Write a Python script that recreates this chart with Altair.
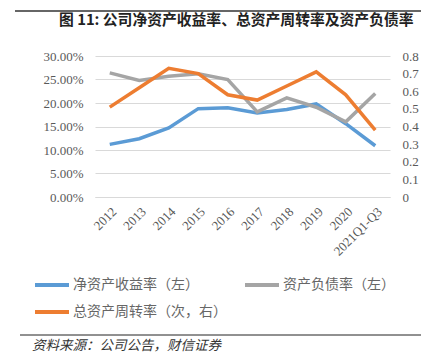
import altair as alt
import pandas as pd

years = ["2012", "2013", "2014", "2015", "2016", "2017", "2018", "2019", "2020", "2021Q1-Q3"]
roe = [0.112, 0.124, 0.147, 0.188, 0.190, 0.179, 0.186, 0.198, 0.156, 0.109]
debt = [0.264, 0.248, 0.257, 0.262, 0.250, 0.181, 0.211, 0.191, 0.160, 0.220]
turnover = [0.51, 0.62, 0.73, 0.70, 0.58, 0.55, 0.63, 0.71, 0.58, 0.38]

s_roe = "净资产收益率（左）"
s_debt = "资产负债率（左）"
s_turn = "总资产周转率（次，右）"
colors = ["#5B9BD5", "#A5A5A5", "#ED7D31"]

title_text = "图 11: 公司净资产收益率、总资产周转率及资产负债率"
source_text = "资料来源：公司公告，财信证券"

left_df = pd.DataFrame(
    [{"year": y, "value": v, "series": s_roe} for y, v in zip(years, roe)]
    + [{"year": y, "value": v, "series": s_debt} for y, v in zip(years, debt)]
)
right_df = pd.DataFrame([{"year": y, "value": v, "series": s_turn} for y, v in zip(years, turnover)])

serif = "Liberation Serif"
cjk = "Noto Sans CJK SC"

color = alt.Color(
    "series:N",
    scale=alt.Scale(domain=[s_roe, s_debt, s_turn], range=colors),
    legend=alt.Legend(
        title=None,
        orient="none",
        legendX=-62,
        legendY=210,
        direction="horizontal",
        columns=2,
        columnPadding=10,
        rowPadding=-8,
        symbolType="stroke",
        symbolSize=1156,
        symbolStrokeWidth=4,
        labelFont=cjk,
        labelFontSize=14,
        labelColor="#666666",
        labelOffset=2,
        labelLimit=300,
    ),
)

xenc = alt.X(
    "year:N",
    sort=years,
    title=None,
    axis=alt.Axis(
        labelAngle=-45,
        labelFont=serif,
        labelFontSize=13,
        labelColor="#595959",
        labelPadding=8,
        ticks=False,
        domainColor="#D9D9D9",
        grid=False,
    ),
)

left = alt.Chart(left_df).mark_line(strokeWidth=3.5).encode(
    x=xenc,
    y=alt.Y(
        "value:Q",
        scale=alt.Scale(domain=[0, 0.3]),
        title=None,
        axis=alt.Axis(
            orient="left",
            values=[0, 0.05, 0.1, 0.15, 0.2, 0.25, 0.3],
            format=".2%",
            labelFont=serif,
            labelFontSize=13,
            labelColor="#595959",
            labelPadding=12,
            ticks=False,
            domain=False,
            grid=True,
            gridColor="#D9D9D9",
        ),
    ),
    color=color,
)

right = alt.Chart(right_df).mark_line(strokeWidth=3.5).encode(
    x=xenc,
    y=alt.Y(
        "value:Q",
        scale=alt.Scale(domain=[0, 0.8]),
        title=None,
        axis=alt.Axis(
            orient="right",
            values=[0, 0.1, 0.2, 0.3, 0.4, 0.5, 0.6, 0.7, 0.8],
            labelExpr="datum.value == 0 ? '0' : format(datum.value, '.1f')",
            labelFont=serif,
            labelFontSize=13,
            labelColor="#595959",
            labelPadding=12,
            ticks=False,
            domain=False,
            grid=False,
        ),
    ),
    color=color,
)

one = alt.Data(values=[{"a": 1}])

title = alt.Chart(one).mark_text(
    text=title_text, font=cjk, fontSize=14.8, fontWeight="bold", color="#222222",
    align="left", baseline="middle",
).encode(x=alt.value(-36), y=alt.value(-35))

source = alt.Chart(one).mark_text(
    text=source_text, font=cjk, fontSize=13.5, fontStyle="italic", color="#333333",
    align="left", baseline="middle",
).encode(x=alt.value(-63), y=alt.value(290))

top_rule = alt.Chart(one).mark_rule(color="#333333", strokeWidth=1.5).encode(
    x=alt.value(-80), x2=alt.value(326), y=alt.value(-45)
)
bottom_rule = alt.Chart(one).mark_rule(color="#222222", strokeWidth=1).encode(
    x=alt.value(-75), x2=alt.value(326), y=alt.value(279)
)

chart = (
    alt.layer(left, right, title, source, top_rule, bottom_rule)
    .resolve_scale(y="independent")
    .properties(
        width=295,
        height=141,
        padding={"left": 87, "top": 48, "right": 31, "bottom": 156},
        autosize=alt.AutoSizeParams(type="none"),
        background="white",
    )
    .configure_view(stroke=None)
)

chart.save("out.html", embed_options={"renderer": "svg", "actions": False})
